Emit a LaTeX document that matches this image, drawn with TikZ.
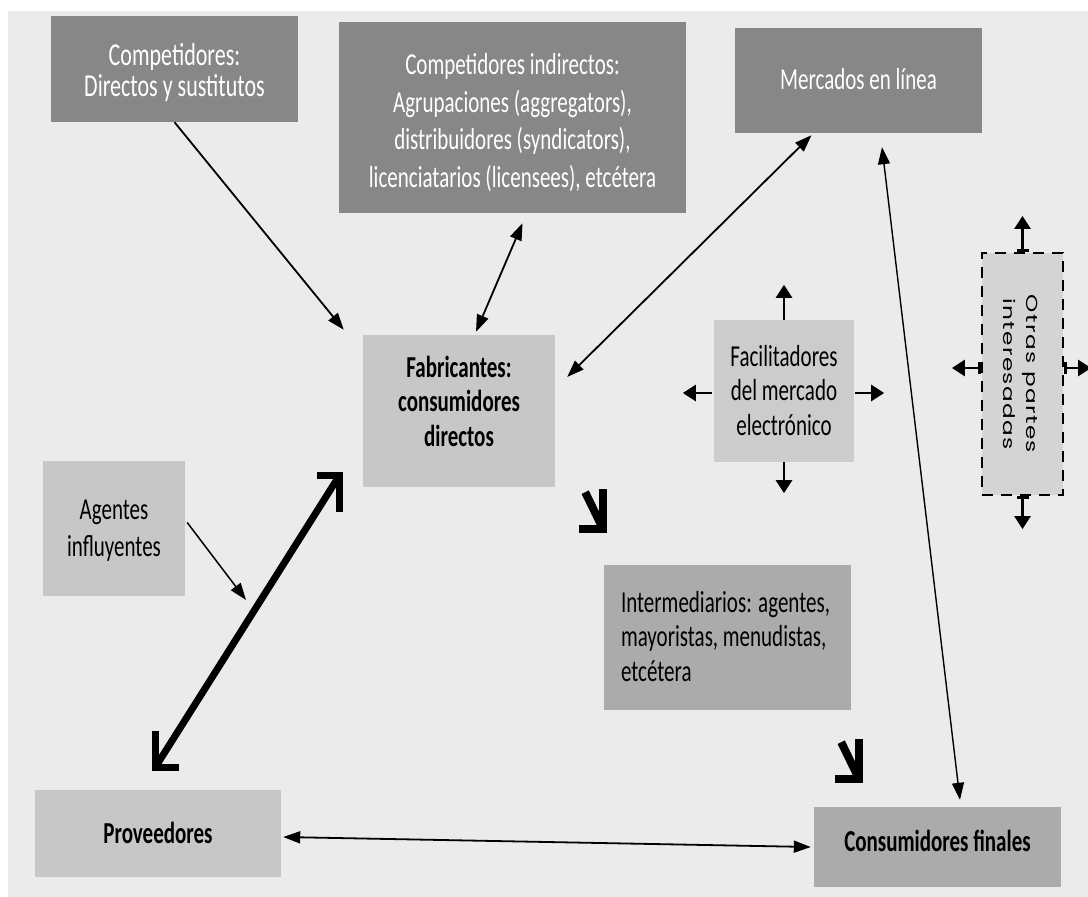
\documentclass[tikz,border=0pt]{standalone}
\usepackage{fontspec}
\usepackage{graphicx}
\setmainfont{Carlito}
\newfontfamily\otrasfont[LetterSpace=6]{Poppins}
\usetikzlibrary{arrows.meta,calc}
\definecolor{bgc}{gray}{0.92}
\definecolor{darkbox}{gray}{0.53}
\definecolor{lightbox}{gray}{0.78}
\definecolor{facbox}{gray}{0.80}
\definecolor{otrbox}{gray}{0.83}
\definecolor{midbox}{gray}{0.67}
\newcommand\vtxt[2][c]{\scalebox{1}[1.45]{\begin{tabular}{@{}#1@{}}#2\end{tabular}}}
\tikzset{
  box/.style={inner sep=0pt, align=center},
  lbl/.style={inner sep=0pt, font=\fontsize{21}{24}\selectfont},
  darkb/.style={box, fill=darkbox},
  lightb/.style={box, fill=lightbox},
  midb/.style={box, fill=midbox},
  thinarr/.style={line width=1.8pt, -{Triangle[length=17pt,width=12pt]}},
  dblarr/.style={line width=1.8pt, {Triangle[length=17pt,width=12pt]}-{Triangle[length=17pt,width=12pt]}},
  stub/.style={line width=2.6pt, -{Triangle[length=13pt,width=16pt]}},
  barstub/.style={line width=2.6pt, {Bar[width=12pt,line width=2.6pt]}-{Triangle[length=13pt,width=16pt]}},
  thickL/.style={line width=7pt, line join=miter, line cap=butt},
  searrow/.pic={
    \draw[thickL, line width=8pt] (-28,-4) -- (-4,-4) -- (-4,-44);
    \draw[thickL, line width=8pt] (-4,-4) -- (-22,-41);
  }
}
\begin{document}
\begin{tikzpicture}[x=1pt,y=-1pt]
\useasboundingbox (0,0) rectangle (1088,897);
\fill[white] (0,0) rectangle (1088,897);
\fill[bgc] (8,11) rectangle (1088,897);

% boxes
\node[darkb, minimum width=247, minimum height=106] (comp) at (174.5,69) {};
\node[lbl, text=white, font=\fontsize{22}{20.5}\selectfont] at ($(comp.center)+(0,5)$) {\vtxt{Competidores:\\Directos y sustitutos}};
\node[darkb, minimum width=347, minimum height=191] (ind) at (512.5,117.5) {};
\node[lbl, text=white, font=\fontsize{21}{26}\selectfont] at ($(ind.center)+(0,6)$) {\vtxt{Competidores indirectos:\\Agrupaciones (aggregators),\\distribuidores (syndicators),\\licenciatarios (licensees), etcétera}};
\node[darkb, minimum width=247, minimum height=105] (merc) at (858.5,80.5) {};
\node[lbl, text=white] at ($(merc.center)+(0,2)$) {\vtxt{Mercados en línea}};
\node[lightb, minimum width=192, minimum height=152] (fab) at (459,411) {};
\node[lbl, font=\fontsize{21}{24}\selectfont\bfseries] at ($(fab.center)+(0,-6)$) {\vtxt{Fabricantes:\\consumidores\\directos}};
\node[lightb, fill=facbox, minimum width=140, minimum height=142] (fac) at (784,391) {};
\node[lbl] at ($(fac.center)+(0,3)$) {\vtxt{Facilitadores\\del mercado\\electrónico}};
\node[box, fill=otrbox, draw=black, line width=2.2pt, dash pattern=on 11pt off 8pt, minimum width=81, minimum height=242] (otras) at (1022.5,374) {};
\node[rotate=-90, inner sep=0pt, font=\otrasfont\fontsize{16}{23}\selectfont] at ($(otras.center)+(-3,0)$) {\scalebox{1.45}[1]{\begin{tabular}{@{}c@{}}Otras partes\\interesadas\end{tabular}}};
\node[lightb, minimum width=142, minimum height=135] (agen) at (114,528.5) {};
\node[lbl, font=\fontsize{21}{25.5}\selectfont] at ($(agen.center)+(0,2.5)$) {\vtxt{Agentes\\influyentes}};
\node[midb, minimum width=247, minimum height=145] (inter) at (727.5,637.5) {};
\node[lbl] at ($(inter.center)+(-2,2.5)$) {\vtxt[l]{Intermediarios: agentes,\\mayoristas, menudistas,\\etcétera}};
\node[lightb, minimum width=246, minimum height=87] (prov) at (158,833.5) {};
\node[lbl, font=\fontsize{21}{24}\selectfont\bfseries] at ($(prov.center)+(0,3)$) {\vtxt{Proveedores}};
\node[midb, minimum width=247, minimum height=80] (cons) at (937.5,847) {};
\node[lbl, font=\fontsize{21}{24}\selectfont\bfseries] at ($(cons.center)+(0,-2)$) {\vtxt{Consumidores finales}};

% thin connectors
\draw[thinarr] (comp.south) -- ($(fab.north west)+(-19,-5)$);
\draw[dblarr] ($(ind.south)+(10,10)$) -- ($(fab.north)+(17,-3)$);
\draw[dblarr] ($(merc.south)+(-47,2)$) -- ($(fab.east)+(12,-34)$);
\draw[dblarr, line width=1.4pt] ($(merc.south)+(23.5,14)$) -- ($(cons.north)+(22.5,-7)$);
\coordinate (agtip) at (246,600);
\draw[thinarr, line width=1.5pt] ($(agen.east)+(2,-6)$) -- (agtip);
\draw[dblarr] ($(prov.east)+(2,3.5)$) -- ($(cons.west)+(-3,0)$);

% facilitadores stubs
\draw[stub] (fac.north) -- ++(0,-35);
\draw[stub] ($(fac.west)+(-2,2)$) -- ++(-29,0);
\draw[stub] ($(fac.east)+(1,2)$) -- ++(29,0);
\draw[stub] (fac.south) -- ++(0,31);

% otras partes stubs
\draw[barstub] (otras.north) -- ++(0,-36);
\draw[barstub] ($(otras.west)+(0,-6)$) -- ++(-29,0);
\draw[barstub] ($(otras.east)+(0,-6)$) -- ++(27,0);
\draw[barstub] (otras.south) -- ++(0,33);

% thick double arrow fabricantes <-> proveedores
\coordinate (tA) at ($(fab.south west)+(-20,-15)$);
\coordinate (tB) at ($(prov.north west)+(117,-19)$);
\draw[thickL] ($(tA)+(-26,3.5)$) -- ($(tA)+(-3.5,3.5)$) -- ($(tA)+(-3.5,40)$);
\draw[thickL] ($(tA)+(-3.5,3.5)$) -- ($(tB)+(3.5,-3.5)$);
\draw[thickL] ($(tB)+(27,-3.5)$) -- ($(tB)+(3.5,-3.5)$) -- ($(tB)+(3.5,-40)$);

% small thick arrows
\pic at ($(fab.south east)+(52,46)$) {searrow};
\pic at ($(inter.south east)+(12,73)$) {searrow};
\end{tikzpicture}
\end{document}
